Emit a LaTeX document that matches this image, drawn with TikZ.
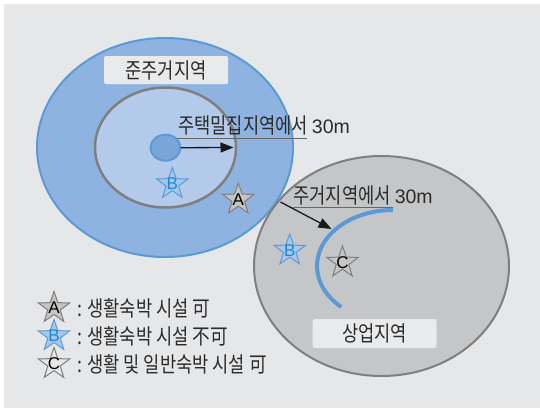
\documentclass[tikz,border=0pt]{standalone}
\usepackage{fontspec}
\setmainfont{Liberation Sans}
\newfontfamily\krfont[FakeStretch=0.82]{Noto Sans CJK KR}
\usetikzlibrary{shapes.geometric,arrows.meta}
\definecolor{bgc}{HTML}{E6E7E9}
\definecolor{boxc}{HTML}{E9EAEC}
\definecolor{blueline}{HTML}{5B9BD5}
\definecolor{bluefill}{HTML}{8FB3E0}
\definecolor{innerfill}{HTML}{B4CAEA}
\definecolor{corefill}{HTML}{7AA5D8}
\definecolor{grayfill}{HTML}{C5C6C8}
\definecolor{grayline}{HTML}{7F7F7F}
\definecolor{txt}{HTML}{2B2B2B}
\definecolor{letterblue}{HTML}{1E88D2}
\definecolor{starbfill}{HTML}{A8C7EE}
\definecolor{starafill}{HTML}{C4C4C4}
\tikzset{
  zone/.style={ellipse, inner sep=0pt, outer sep=0pt},
  zoneblue/.style={zone, draw=blueline, fill=bluefill, line width=2pt, minimum width=256pt, minimum height=219pt},
  zoneinner/.style={zone, draw=grayline, fill=innerfill, line width=2.5pt, minimum width=141pt, minimum height=120pt},
  zonecore/.style={zone, draw=blueline, fill=corefill, line width=2pt, minimum width=30pt, minimum height=26pt},
  zonegray/.style={zone, draw=grayline, fill=grayfill, line width=2pt, minimum width=255pt, minimum height=220pt},
  namebox/.style={rectangle, rounded corners=2pt, fill=boxc, minimum width=124pt, minimum height=28pt, inner sep=0pt, text=txt, font=\krfont\fontsize{21.5}{24}\selectfont},
  lbl/.style={inner sep=0pt, anchor=base west, text=txt, font=\krfont\fontsize{21.5}{24}\selectfont},
  ulinestyle/.style={draw=grayline!80!black, line width=1.5pt},
  arr/.style={draw=black!90, line width=1.3pt, -{Triangle[length=13pt,width=10pt]}},
  arcline/.style={draw=blueline, line width=4pt},
  starbase/.style={star, star points=5, star point ratio=2.5, minimum size=33pt, inner sep=0pt, line width=1pt},
  stara/.style={starbase, draw=grayline, fill=starafill},
  starb/.style={starbase, draw=blueline, fill=starbfill},
  starc/.style={starbase, draw=grayline},
  letter/.style={inner sep=0pt, font=\fontsize{17}{20}\selectfont},
}
\newcommand{\latinpart}[1]{{\fontspec{Liberation Sans}\fontsize{19.5}{22}\selectfont #1}}
\begin{document}
\begin{tikzpicture}[x=1pt,y=-1pt]
\useasboundingbox (0,0) rectangle (540,408);
\fill[white] (0,0) rectangle (540,408);
\fill[bgc] (4,4) rectangle (540,408);

% left zone
\node[zoneblue] (outer) at (165,147.5) {};
\node[namebox] (boxjun) at (166,70) {준주거지역};
\node[zoneinner] (inner) at (165.5,147.5) {};
\node[zonecore] (core) at (165.5,147.7) {};

% right zone
\node[zonegray] (grayzone) at (381.5,266) {};
\node[namebox, minimum height=29pt] (boxsang) at (374.7,333.5) {상업지역};

% blue arc
\coordinate (arctop) at (393,210);
\draw[arcline] (arctop) arc[start angle=270, end angle=133, x radius=76, y radius=56];

% arrow 1 and label
\draw[arr] (core.east) -- ([xshift=-2.5pt]inner.east);
\coordinate (u1s) at (176.7,138.3);
\coordinate (u1e) at (306.7,138.3);
\draw[ulinestyle] (u1s) -- (u1e);
\node[lbl] (lab1) at (178,133.5) {주택밀집지역에서 \latinpart{30m}};

% arrow 2 and label
\coordinate (a2s) at (280.5,202);
\coordinate (a2e) at (331.5,229);
\draw[arr] (a2s) -- (a2e);
\coordinate (u2s) at (293,207.5);
\coordinate (u2e) at (393,207.5);
\draw[ulinestyle] (u2s) -- (u2e);
\node[lbl] (lab2) at (293.3,203.8) {주거지역에서 \latinpart{30m}};

% stars in figure
\node[starb] (sb1) at (172.3,184) {};
\node[letter, text=letterblue] (lb1) at (sb1) {B};
\node[stara] (sa1) at (238.3,199.5) {};
\node[letter, text=black] (la1) at (sa1) {A};
\node[starb] (sb2) at (289.7,250.5) {};
\node[letter, text=letterblue] (lb2) at (sb2) {B};
\node[starc] (sc1) at (342.5,262.5) {};
\node[letter, text=black] (lc1) at (sc1) {C};

% legend
\node[stara] (lsa) at (54,308) {};
\node[letter, text=black] (lla) at (lsa) {A};
\node[lbl] (lta) at (77,316) {: 생활숙박 시설 可};
\node[starb] (lsb) at (54,336) {};
\node[letter, text=letterblue] (llb) at (lsb) {B};
\node[lbl] (ltb) at (77,344) {: 생활숙박 시설 不可};
\node[starc] (lsc) at (54,364) {};
\node[letter, text=black] (llc) at (lsc) {C};
\node[lbl] (ltc) at (77,372) {: 생활 및 일반숙박 시설 可};
\end{tikzpicture}
\end{document}
